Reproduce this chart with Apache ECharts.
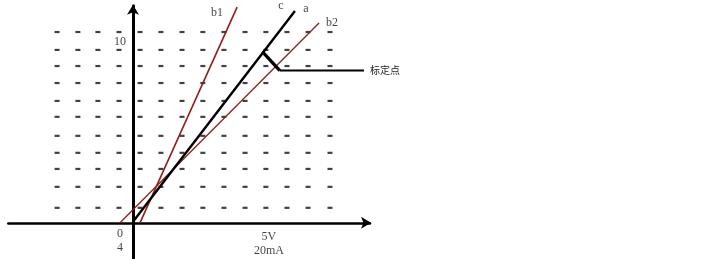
<!DOCTYPE html>
<html>
<head>
<meta charset="utf-8">
<script src="https://cdn.jsdelivr.net/npm/echarts@6/dist/echarts.min.js"></script>
<style>html,body{margin:0;padding:0;background:#fff;}#c{width:722px;height:259px;}</style>
</head>
<body>
<div id="c"></div>
<script>
// Dash grid positions (x in V units, y in output units)
const dashCols = [-2.77, -2.01, -1.28, -0.51, 0.26, 1.02, 1.79, 2.55, 3.32, 4.09, 4.85, 5.62, 6.39, 7.19];
const dashRows = [10.55, 9.56, 8.67, 7.73, 6.74, 5.86, 4.81, 3.87, 2.98, 1.99, 0.83];
// Characteristic lines
const lineB1 = [[0.255, 0], [3.80, 11.93]];
const lineB2 = [[-0.474, 0], [6.79, 11.05]];
const lineA  = [[0, 0.055], [5.91, 11.71]];
// Calibration point marker
const calibPointer = [[4.72, 9.47], [5.36, 8.42]];
const calibLeader  = [[5.36, 8.42], [8.43, 8.42]];
const calibText = '标定点';
// Text labels [x, y, text]
const labels = [
  [3.07, 11.62, 'b1'],
  [5.40, 11.98, 'c'],
  [6.31, 11.81, 'a'],
  [7.26, 11.05, 'b2'],
  [-0.47, 10.02, '10'],
  [-0.47, -0.61, '0'],
  [-0.47, -1.38, '4'],
  [4.96, -0.77, '5V'],
  [4.96, -1.53, '20mA']
];

const X_MIN = -4.55, X_MAX = 8.65, Y_MIN = -2, Y_MAX = 12;
const dashData = [];
dashRows.forEach(function (r) { dashCols.forEach(function (c) { dashData.push([c, r]); }); });

const RED = '#8e1f1f';
const chart = echarts.init(document.getElementById('c'), null, {renderer: 'canvas'});
chart.setOption({
  animation: false,
  backgroundColor: '#fff',
  grid: {left: 8.3, width: 361.7, top: 5.8, height: 253.4},
  xAxis: {
    type: 'value', min: X_MIN, max: X_MAX,
    axisLine: {show: true, onZero: true, symbol: ['none', 'arrow'], symbolSize: [9, 10], symbolOffset: [0, 1],
      lineStyle: {color: '#000', width: 2.5}},
    axisTick: {show: false}, axisLabel: {show: false}, splitLine: {show: false}
  },
  yAxis: {
    type: 'value', min: Y_MIN, max: Y_MAX,
    axisLine: {show: true, onZero: true, symbol: ['none', 'arrow'], symbolSize: [9, 10], symbolOffset: [0, 1],
      lineStyle: {color: '#000', width: 3}},
    axisTick: {show: false}, axisLabel: {show: false}, splitLine: {show: false}
  },
  series: [
    {
      type: 'scatter', data: dashData, symbol: 'rect', symbolSize: [5, 2.2],
      itemStyle: {color: '#111'}, silent: true, z: 1
    },
    {type: 'line', data: lineB1, symbol: 'none', lineStyle: {color: RED, width: 1.6}, z: 3},
    {type: 'line', data: lineB2, symbol: 'none', lineStyle: {color: RED, width: 1.3}, z: 3},
    {type: 'line', data: lineA, symbol: 'none', lineStyle: {color: '#000', width: 2.4}, z: 4},
    {type: 'line', data: calibPointer, symbol: 'none', lineStyle: {color: '#000', width: 3.2}, z: 4},
    {type: 'line', data: calibLeader, symbol: 'none', lineStyle: {color: '#000', width: 2}, z: 4,
      endLabel: {show: true, formatter: calibText, color: '#222', fontSize: 10,
        fontFamily: 'Noto Sans CJK SC', distance: 6}},
    {
      type: 'scatter', symbolSize: 0, clip: false, z: 5,
      data: labels.map(function (l) { return {value: [l[0], l[1]], name: l[2]}; }),
      label: {show: true, position: 'inside', formatter: '{b}', color: '#111', fontSize: 12,
        fontFamily: 'Liberation Serif'}
    }
  ]
});
</script>
</body>
</html>
